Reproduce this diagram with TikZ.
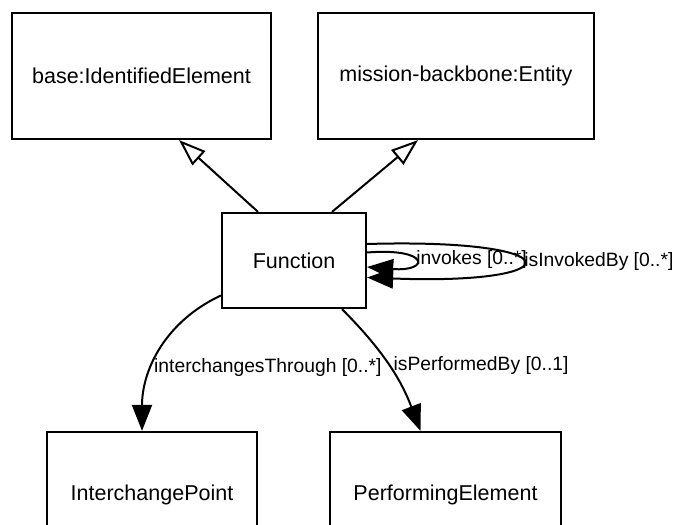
\documentclass[tikz,border=0pt]{standalone}
\usepackage{fontspec}
\setmainfont{Liberation Sans}
\usetikzlibrary{arrows.meta}

\begin{document}
\begin{tikzpicture}[x=1pt, y=1pt, line width=2pt,
    cls/.style = {draw, line width=2.2pt, font=\fontsize{21.5}{24}\selectfont},
    gen/.style = {-{Triangle[open, length=27pt, width=19pt, fill=white]}},
    rel/.style = {-{Triangle[length=26pt, width=20pt]}},
    lbl/.style = {font=\fontsize{19.3}{22}\selectfont}]
    \clip (0,0) rectangle (675,525);
    \node[cls, minimum width=259, minimum height=126] (base) at (141.5,449) {base:IdentifiedElement};
    \node[cls, minimum width=276, minimum height=126] (ent) at (456,449) {mission-backbone:Entity};
    \node[cls, minimum width=144, minimum height=95] (fn) at (294,264.5) {Function};
    \node[cls, minimum width=210, minimum height=125] (ip) at (152,30.5) {InterchangePoint};
    \node[cls, minimum width=231, minimum height=125] (pe) at (445.5,30.5) {PerformingElement};
    \draw[gen] ([xshift=-36pt]fn.north) -- ([xshift=37.5pt]base.south);
    \draw[gen] ([xshift=38pt]fn.north) -- ([xshift=-38pt]ent.south);
    \draw[rel] ([yshift=-35pt]fn.west) to[out=205, in=90]
        node[lbl, pos=0.62, right, inner sep=0.5pt] {interchangesThrough [0..*]} ([xshift=-10pt]ip.north);
    \draw[rel] ([xshift=48pt]fn.south) to[bend left=12]
        node[lbl, pos=0.5, right, inner sep=4pt] {isPerformedBy [0..1]} ([xshift=-25pt]pe.north);
    \draw[rel] ([yshift=8pt]fn.east) .. controls +(63,5) and +(63,-5) ..
        node[lbl, pos=0.5, right, inner sep=1pt] {invokes [0..*]} ([yshift=-6.5pt]fn.east);
    \draw[rel] ([yshift=16.5pt]fn.east) .. controls +(207,6) and +(207,-8) ..
        node[lbl, pos=0.5, right, inner sep=1pt] {isInvokedBy [0..*]} ([yshift=-17pt]fn.east);
\end{tikzpicture}
\end{document}
